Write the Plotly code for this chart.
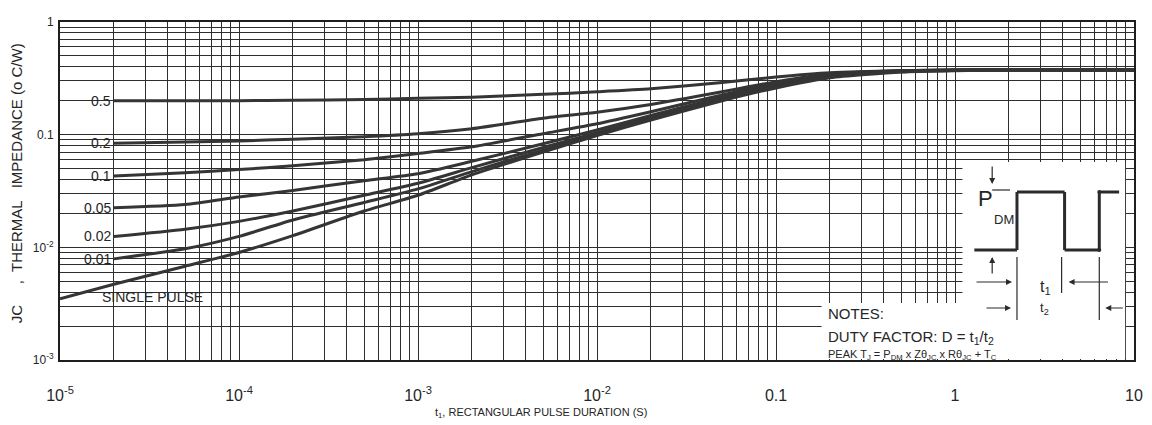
import math
import plotly.graph_objects as go

# ---- data: transient thermal impedance Z(theta)JC vs rectangular pulse width ----
t_single = [1e-5, 2e-5, 5e-5, 1e-4, 2e-4, 5e-4, 1e-3, 2e-3, 5e-3, 1e-2, 2e-2,
            5e-2, 0.1, 0.2, 0.5, 1, 2, 5, 10]
t_duty = t_single[1:]

z_single = [0.0035, 0.0047, 0.0068, 0.0090, 0.0127, 0.021, 0.029, 0.044, 0.070,
            0.098, 0.135, 0.20, 0.26, 0.32, 0.36, 0.37, 0.375, 0.375, 0.375]
z_d001 = [0.0079, 0.0097, 0.0125, 0.0175, 0.025, 0.033, 0.047, 0.073, 0.100,
          0.138, 0.205, 0.265, 0.325, 0.362, 0.372, 0.375, 0.375, 0.375]
z_d002 = [0.0125, 0.0145, 0.017, 0.021, 0.029, 0.037, 0.051, 0.077, 0.104,
          0.142, 0.21, 0.27, 0.33, 0.365, 0.373, 0.375, 0.375, 0.375]
z_d005 = [0.0225, 0.024, 0.028, 0.032, 0.039, 0.045, 0.058, 0.083, 0.11,
          0.148, 0.215, 0.275, 0.335, 0.367, 0.373, 0.375, 0.375, 0.375]
z_d01 = [0.043, 0.046, 0.049, 0.053, 0.060, 0.068, 0.078, 0.102, 0.125,
         0.16, 0.225, 0.285, 0.34, 0.368, 0.374, 0.375, 0.375, 0.375]
z_d02 = [0.084, 0.086, 0.088, 0.091, 0.096, 0.102, 0.113, 0.14, 0.158,
         0.185, 0.24, 0.295, 0.345, 0.37, 0.374, 0.375, 0.375, 0.375]
z_d05 = [0.20, 0.20, 0.20, 0.202, 0.205, 0.21, 0.215, 0.228, 0.24,
         0.255, 0.29, 0.325, 0.355, 0.37, 0.374, 0.375, 0.375, 0.375]

duty_labels = ["0.5", "0.2", "0.1", "0.05", "0.02", "0.01"]
duty_curves = [z_d05, z_d02, z_d01, z_d005, z_d002, z_d001]

x_decades = [-5, -4, -3, -2, -1, 0, 1]
x_decade_text = ["10<sup>-5</sup>", "10<sup>-4</sup>", "10<sup>-3</sup>",
                 "10<sup>-2</sup>", "0.1", "1", "10"]
y_decades = [-3, -2, -1, 0]
y_decade_text = ["10<sup>-3</sup>", "10<sup>-2</sup>", "0.1", "1"]

# ---- page geometry (pixels) ----
W, H = 1152, 425
L, R, T, B = 60, 1143, 22, 360
FONT = "Arial, Liberation Sans, sans-serif"
INK = "#262626"


def px(x):
    return (x - L) / (R - L)


def py(y):
    return (B - y) / (B - T)


def minor_values(decades):
    return [m * 10 ** d for d in decades[:-1] for m in range(2, 10)]


x_major = [10 ** d for d in x_decades]
y_major = [10 ** d for d in y_decades]

fig = go.Figure()
curve_line = dict(color="#353535", width=3, shape="spline", smoothing=0.6)
for z in duty_curves:
    fig.add_trace(go.Scatter(x=t_duty, y=z, mode="lines", line=curve_line,
                             hoverinfo="skip"))
fig.add_trace(go.Scatter(x=t_single, y=z_single, mode="lines", line=curve_line,
                         hoverinfo="skip"))

shapes = []
annotations = []

# white backing areas for the labels and notes
for x0, y0, x1, y1, layer in [
    (76, 84, 112, 258, "between"),
    (95, 285, 226, 309, "between"),
    (970, 162, 1134, B - 1, "above"),
    (828, 303, 1134, B - 1, "above"),
]:
    shapes.append(dict(type="rect", xref="paper", yref="paper",
                       x0=px(x0), x1=px(x1), y0=py(y1), y1=py(y0),
                       fillcolor="white", line=dict(width=0), layer=layer))

# duty factor labels at the start of each curve
for lab, z in zip(duty_labels, duty_curves):
    annotations.append(dict(x=math.log10(t_duty[0]), y=math.log10(z[0]),
                            xref="x", yref="y", text=lab, showarrow=False,
                            xanchor="right", yanchor="middle", xshift=-1,
                            font=dict(family=FONT, size=14, color=INK)))
annotations.append(dict(x=px(100), y=py(297), xref="paper", yref="paper",
                        text="SINGLE PULSE", showarrow=False, xanchor="left",
                        yanchor="middle",
                        font=dict(family=FONT, size=14, color=INK)))

# pulse waveform sketch
def seg(x0, y0, x1, y1, w=3):
    shapes.append(dict(type="line", xref="paper", yref="paper",
                       x0=px(x0), y0=py(y0), x1=px(x1), y1=py(y1),
                       line=dict(color="#2b2b2b", width=w), layer="above"))


seg(982, 250, 1025, 250)
seg(1025, 250, 1025, 192)
seg(1025, 192, 1073, 192)
seg(1073, 192, 1073, 250)
seg(1073, 250, 1108, 250)
seg(1108, 250, 1108, 192)
seg(1108, 192, 1128, 192)
seg(1000, 190, 1018, 190, 1.2)
seg(1025, 257, 1025, 320, 1.2)
seg(1070, 257, 1070, 293, 1.2)
seg(1108, 257, 1108, 320, 1.2)
for cy in (250, 192):
    shapes.append(dict(type="circle", xref="paper", yref="paper",
                       x0=px(1106), x1=px(1110), y0=py(cy + 2), y1=py(cy - 2),
                       fillcolor="#2b2b2b", line=dict(width=0), layer="above"))


def arrow(x_tip, y_tip, x_tail, y_tail):
    annotations.append(dict(x=px(x_tip), y=py(y_tip), xref="paper", yref="paper",
                            ax=x_tail - x_tip, ay=y_tail - y_tip, text="",
                            showarrow=True, arrowhead=2, arrowsize=1,
                            arrowwidth=1.2, arrowcolor="#2b2b2b"))


arrow(1000, 184, 1000, 165)
arrow(1000, 257, 1000, 275)
arrow(1020, 282, 983, 282)
arrow(1077, 282, 1118, 282)
arrow(1019, 308, 993, 308)
arrow(1114, 308, 1133, 308)


def note(x, y, text, size, anchor="left"):
    annotations.append(dict(x=px(x), y=py(y), xref="paper", yref="paper",
                            text=text, showarrow=False, xanchor=anchor,
                            yanchor="middle",
                            font=dict(family=FONT, size=size, color=INK)))


note(984, 198, "P", 22)
note(1000, 219, "DM", 13)
note(1046, 287, "t<sub>1</sub>", 16)
note(1046, 308, "t<sub>2</sub>", 13)
note(832, 313, "NOTES:", 15)
note(832, 337, "DUTY FACTOR: D = t<sub>1</sub>/t<sub>2</sub>", 15)
note(832, 355, "PEAK T<sub>J</sub> = P<sub>DM</sub> x Z\u03b8<sub>JC</sub> x "
     "R\u03b8<sub>JC</sub> + T<sub>C</sub>", 11)

# axis titles
note(545, 413, "t<sub>1</sub>, RECTANGULAR PULSE DURATION (S)", 11, "center")
annotations.append(dict(x=px(16), y=py(183), xref="paper", yref="paper",
                        text="JC     ,  THERMAL   IMPEDANCE (o C/W)",
                        showarrow=False, textangle=-90, xanchor="center",
                        yanchor="middle",
                        font=dict(family=FONT, size=15, color=INK)))

grid_style = dict(gridcolor="#2e2e2e", gridwidth=1.3)
axis_common = dict(type="log", tickmode="array", showgrid=True, ticks="",
                   showline=True, linecolor="#1e1e1e", linewidth=2,
                   mirror=True, zeroline=False, ticklabeloverflow="allow",
                   **grid_style)

fig.update_layout(
    width=W, height=H,
    margin=dict(l=L, r=W - R, t=T, b=H - B),
    paper_bgcolor="white", plot_bgcolor="white",
    showlegend=False,
    xaxis=dict(range=[-5, 1], tickvals=x_major, ticktext=x_decade_text,
               tickfont=dict(family=FONT, size=16, color=INK),
               ticklabelstandoff=20,
               minor=dict(tickmode="array", tickvals=minor_values(x_decades),
                          showgrid=True, ticks="", **grid_style),
               **axis_common),
    yaxis=dict(range=[-3, 0], tickvals=y_major, ticktext=y_decade_text,
               tickfont=dict(family=FONT, size=12, color=INK),
               ticklabelstandoff=2,
               minor=dict(tickmode="array", tickvals=minor_values(y_decades),
                          showgrid=True, ticks="", **grid_style),
               **axis_common),
    shapes=shapes,
    annotations=annotations,
)

fig.write_html("out.html")
